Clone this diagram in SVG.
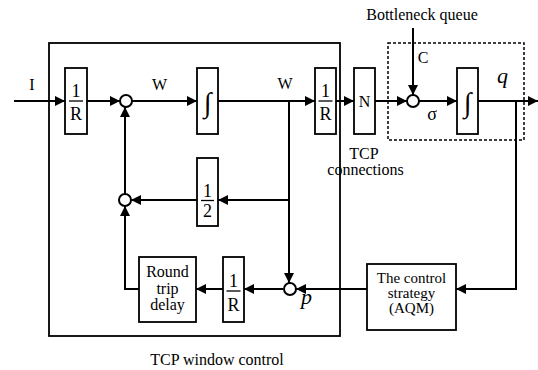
<svg xmlns="http://www.w3.org/2000/svg" width="538" height="370" viewBox="0 0 538 370" font-family="'Liberation Serif', 'Times New Roman', 'DejaVu Serif', serif">
<style>
.box{fill:#fff;stroke:#000;stroke-width:1.8}
.sum{fill:#fff;stroke:#000;stroke-width:2}
.ln{fill:none;stroke:#000;stroke-width:2}
.fr{stroke:#000;stroke-width:1.3}
text{font-family:'Liberation Serif','Times New Roman','DejaVu Serif',serif;fill:#000}
.t16{font-size:16px}
.t15{font-size:15px}
.f{font-size:18px;text-anchor:middle}
.c{text-anchor:middle}
.ig{font-size:28px;text-anchor:middle}
.it{font-style:italic;font-size:22px}
</style>
<defs>
<marker id="ar" markerUnits="userSpaceOnUse" markerWidth="10" markerHeight="10" refX="10" refY="5" orient="auto">
<path d="M0,0 L10,5 L0,10 z" fill="#000"/>
</marker>
</defs>
<rect id="tcp-window-control" x="49" y="43" width="291" height="293" fill="none" stroke="#000" stroke-width="1.8"/>
<rect id="bottleneck-queue" x="388" y="43" width="136" height="97" fill="none" stroke="#000" stroke-width="1.5" stroke-dasharray="3,2"/>
<g id="connectors">
<line class="ln" x1="14" y1="101" x2="65" y2="101" marker-end="url(#ar)"/>
<line class="ln" x1="87" y1="101" x2="120" y2="101" marker-end="url(#ar)"/>
<line class="ln" x1="132" y1="101" x2="197" y2="101" marker-end="url(#ar)"/>
<line class="ln" x1="218" y1="101" x2="315" y2="101" marker-end="url(#ar)"/>
<line class="ln" x1="336" y1="101" x2="354" y2="101" marker-end="url(#ar)"/>
<line class="ln" x1="375" y1="101" x2="407" y2="101" marker-end="url(#ar)"/>
<line class="ln" x1="419" y1="101" x2="457" y2="101" marker-end="url(#ar)"/>
<line class="ln" x1="478" y1="101" x2="538" y2="101" marker-end="url(#ar)"/>
<line class="ln" x1="413" y1="28" x2="413" y2="95" marker-end="url(#ar)"/>
<polyline class="ln" points="516,101 516,289 456,289" marker-end="url(#ar)"/>
<line class="ln" x1="367" y1="289" x2="296" y2="289" marker-end="url(#ar)"/>
<line class="ln" x1="289" y1="101" x2="289" y2="283" marker-end="url(#ar)"/>
<line class="ln" x1="289" y1="200" x2="218" y2="200" marker-end="url(#ar)"/>
<line class="ln" x1="197" y1="200" x2="131" y2="200" marker-end="url(#ar)"/>
<line class="ln" x1="125" y1="194" x2="125" y2="107" marker-end="url(#ar)"/>
<line class="ln" x1="283" y1="289" x2="244" y2="289" marker-end="url(#ar)"/>
<line class="ln" x1="223" y1="289" x2="196" y2="289" marker-end="url(#ar)"/>
<polyline class="ln" points="139,289 125,289 125,206" marker-end="url(#ar)"/>
</g>
<g id="gain-1R-in">
<rect class="box" x="65" y="68" width="22" height="66"/>
<text class="f" x="76" y="97">1</text>
<line class="fr" x1="69" y1="101" x2="83" y2="101"/>
<text class="f" x="76" y="120">R</text>
</g>
<g id="sum-1"><circle class="sum" cx="126" cy="101" r="6"/></g>
<g id="integrator-1">
<rect class="box" x="197" y="68" width="21" height="66"/>
<text class="ig" x="207.5" y="112">∫</text>
</g>
<g id="gain-1R-out">
<rect class="box" x="315" y="68" width="21" height="66"/>
<text class="f" x="325.5" y="97">1</text>
<line class="fr" x1="318.5" y1="101" x2="332.5" y2="101"/>
<text class="f" x="325.5" y="120">R</text>
</g>
<g id="tcp-connections">
<rect class="box" x="354" y="68" width="21" height="66"/>
<text class="c t16" x="364.5" y="107">N</text>
</g>
<g id="sum-sigma"><circle class="sum" cx="413" cy="101" r="6"/></g>
<g id="integrator-2">
<rect class="box" x="457" y="68" width="21" height="66"/>
<text class="ig" x="467.5" y="112">∫</text>
</g>
<g id="gain-half">
<rect class="box" x="197" y="158" width="21" height="68"/>
<text class="f" x="207.5" y="197">1</text>
<line class="fr" x1="201" y1="200.5" x2="214" y2="200.5"/>
<text class="f" x="207.5" y="217">2</text>
</g>
<g id="sum-2"><circle class="sum" cx="125" cy="200" r="6"/></g>
<g id="sum-p"><circle class="sum" cx="290" cy="289" r="6"/></g>
<g id="gain-1R-fb">
<rect class="box" x="223" y="257" width="21" height="65"/>
<text class="f" x="233.5" y="287">1</text>
<line class="fr" x1="226.5" y1="291" x2="240.5" y2="291"/>
<text class="f" x="233.5" y="311">R</text>
</g>
<g id="round-trip-delay">
<rect class="box" x="139" y="257" width="57" height="65"/>
<text class="c t16" x="167.5" y="277">Round</text>
<text class="c t16" x="167.5" y="293.5">trip</text>
<text class="c t16" x="167.5" y="310">delay</text>
</g>
<g id="aqm">
<rect class="box" x="367" y="264" width="89" height="66"/>
<text class="c t15" x="411.5" y="283">The control</text>
<text class="c t15" x="411.5" y="298">strategy</text>
<text class="c t15" x="411.5" y="313">(AQM)</text>
</g>
<text class="c t16" x="32" y="90">I</text>
<text class="c t16" x="159.5" y="90">W</text>
<text class="c t16" x="285" y="89">W</text>
<text class="c t16" x="423" y="63">C</text>
<text class="c" x="432" y="120" font-size="18">σ</text>
<text class="it" x="497" y="83">q</text>
<text class="it" x="301" y="304">p</text>
<text class="c t16" x="422" y="20">Bottleneck queue</text>
<text class="c t16" x="364" y="159">TCP</text>
<text class="c t16" x="365.5" y="175">connections</text>
<text class="c t16" x="217" y="365">TCP window control</text>
</svg>
